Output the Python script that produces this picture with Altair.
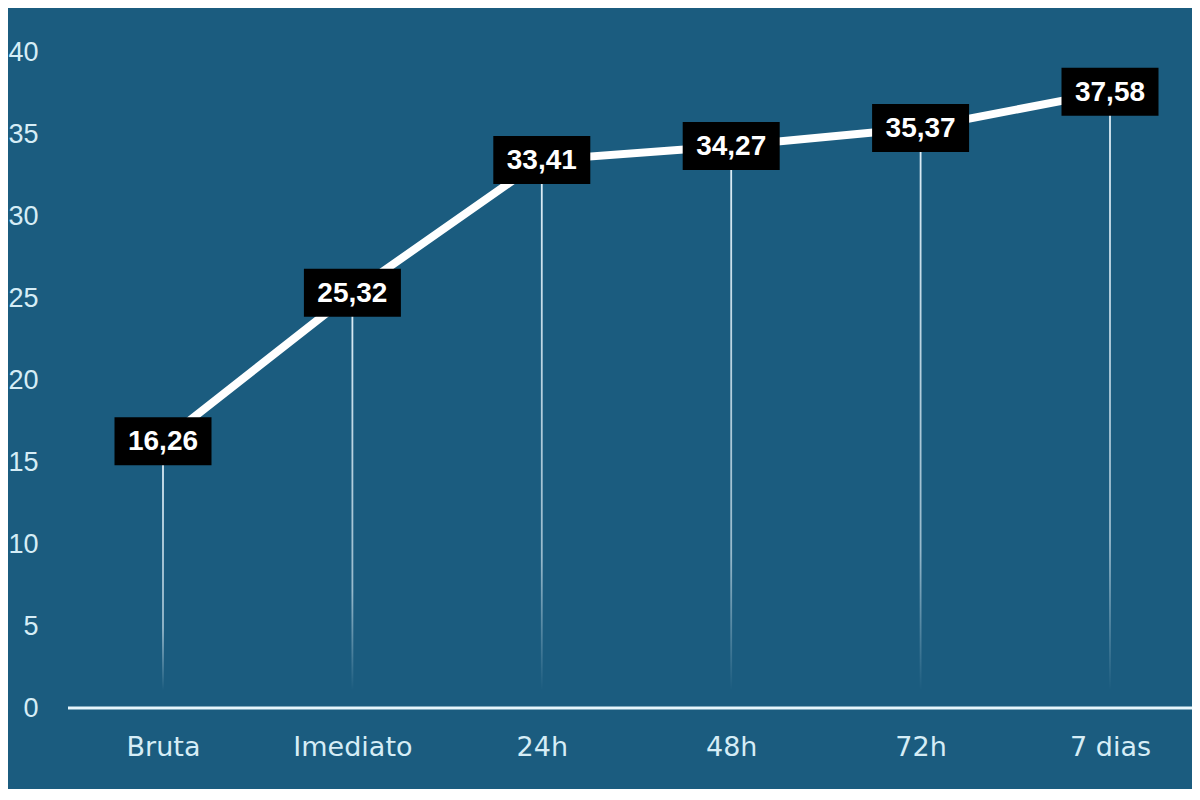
import altair as alt
import pandas as pd

categories = ["Bruta", "Imediato", "24h", "48h", "72h", "7 dias"]
values = [16.26, 25.32, 33.41, 34.27, 35.37, 37.58]
y_ticks = [0, 5, 10, 15, 20, 25, 30, 35, 40]

df = pd.DataFrame({
    "cat": categories,
    "val": values,
    "label": [f"{v:.2f}".replace(".", ",") for v in values],
    "base": [1.1] * len(values),
})

W, H = 1124, 656
BG = "#1b5c7f"

x = alt.X("cat:N", sort=categories,
          scale=alt.Scale(type="point", range=[95, 1042], padding=0),
          axis=alt.Axis(title=None, domain=False, ticks=False, grid=False,
                        labelAngle=0, labelFontSize=27, labelFont="DejaVu Sans",
                        labelColor="#d6edf6", labelPadding=26))
y = alt.Y("val:Q", scale=alt.Scale(domain=[0, 40], nice=False, zero=True),
          axis=alt.Axis(title=None, domain=False, ticks=False, grid=False,
                        values=y_ticks, labelFontSize=27, labelFont="Liberation Sans",
                        labelColor="#d6edf6", labelPadding=30))

base = alt.Chart(df)

stems = base.mark_bar(
    width=1.8,
    color=alt.Gradient(
        gradient="linear", x1=0, x2=0, y1=0, y2=1,
        stops=[alt.GradientStop(offset=0, color="rgba(235,248,255,0.95)"),
               alt.GradientStop(offset=0.75, color="rgba(235,248,255,0.6)"),
               alt.GradientStop(offset=1, color="rgba(235,248,255,0.0)")]),
).encode(x=x, y=y, y2="base:Q")

axis_line = alt.Chart(pd.DataFrame({"z": [0]})).mark_rule(
    color="#e6f5fb", strokeWidth=3
).encode(y=alt.Y("z:Q", scale=alt.Scale(domain=[0, 40], nice=False)),
         x=alt.value(0), x2=alt.value(W))

line = base.mark_line(color="white", strokeWidth=8, strokeCap="round").encode(x=x, y=y)

boxes = base.mark_point(
    shape="M-1,-0.495L1,-0.495L1,0.495L-1,0.495Z",
    filled=True, color="black", opacity=1, size=9409, strokeWidth=0,
).encode(x=x, y=y)

texts = base.mark_text(
    color="white", fontSize=28, fontWeight="bold", font="Liberation Sans",
    baseline="middle", align="center", dy=1,
).encode(x=x, y=y, text="label:N")

chart = alt.layer(stems, axis_line, line, boxes, texts).properties(
    width=W, height=H,
    background=BG,
    padding={"left": 60, "top": 44, "right": 0, "bottom": 81},
    autosize=alt.AutoSizeParams(type="none"),
).configure_view(stroke=None)

chart.save("out.html", embed_options={"renderer": "svg", "actions": False})
